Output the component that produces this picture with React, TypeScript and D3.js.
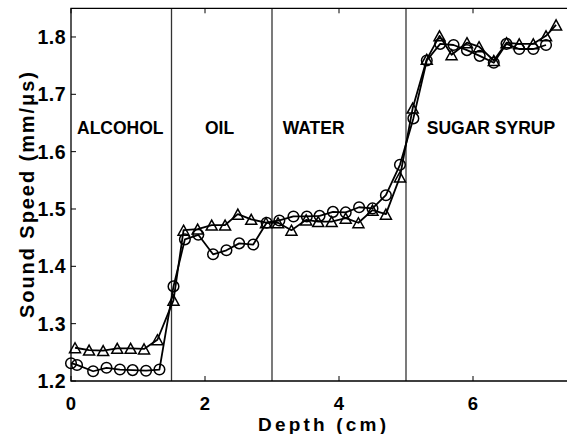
import * as d3 from "d3";
import React from "react";

// depth (cm) and sound speed (mm/us) for the two runs
const circleDepth = [0, 0.09, 0.33, 0.53, 0.73, 0.92, 1.12, 1.32, 1.53, 1.7, 1.9, 2.12, 2.32, 2.51, 2.72, 2.92, 3.11, 3.32, 3.52, 3.71, 3.91, 4.1, 4.3, 4.5, 4.7, 4.91, 5.11, 5.31, 5.51, 5.71, 5.91, 6.1, 6.31, 6.5, 6.69, 6.9, 7.09];
const circleSpeed = [1.231, 1.228, 1.217, 1.223, 1.22, 1.219, 1.218, 1.22, 1.365, 1.447, 1.455, 1.421, 1.428, 1.44, 1.438, 1.476, 1.48, 1.487, 1.487, 1.488, 1.495, 1.494, 1.503, 1.501, 1.524, 1.577, 1.658, 1.759, 1.788, 1.786, 1.777, 1.767, 1.755, 1.788, 1.779, 1.779, 1.786];

const triDepth = [0.06, 0.27, 0.48, 0.69, 0.89, 1.09, 1.29, 1.53, 1.68, 1.89, 2.1, 2.3, 2.49, 2.69, 2.91, 3.09, 3.29, 3.51, 3.69, 3.89, 4.1, 4.29, 4.5, 4.7, 4.91, 5.1, 5.31, 5.5, 5.68, 5.91, 6.09, 6.31, 6.5, 6.69, 6.9, 7.09, 7.24];
const triSpeed = [1.258, 1.254, 1.253, 1.257, 1.257, 1.256, 1.272, 1.341, 1.463, 1.465, 1.472, 1.472, 1.491, 1.482, 1.476, 1.476, 1.463, 1.481, 1.478, 1.478, 1.484, 1.476, 1.498, 1.491, 1.556, 1.676, 1.761, 1.802, 1.769, 1.79, 1.783, 1.759, 1.79, 1.788, 1.788, 1.802, 1.821];

const boundaries = [1.5, 3, 5];
const layerNames = ["ALCOHOL", "OIL", "WATER", "SUGAR SYRUP"];
const layerLabelDepth = [0.09, 2.0, 3.16, 5.31];
const xTicks = [0, 2, 4, 6];
const yTicks = [1.2, 1.3, 1.4, 1.5, 1.6, 1.7, 1.8];

const W = 567;
const H = 434;
const font = "'Liberation Sans', Arial, sans-serif";

export default function App() {
  const x = d3.scaleLinear().domain([0, 7.5]).range([71, 573.5]);
  const y = d3.scaleLinear().domain([1.2, 1.85]).range([381, 8.3]);
  const x0 = 71;
  const [yb, yt] = y.range();

  const line = d3
    .line<[number, number]>()
    .x((d) => x(d[0]))
    .y((d) => y(d[1]));

  const circlePts = circleDepth.map((d, i) => [d, circleSpeed[i]] as [number, number]);
  const triPts = triDepth.map((d, i) => [d, triSpeed[i]] as [number, number]);
  const tri = "M0,-5L5.5,5L-5.5,5Z";

  return (
    <svg width={W} height={H} style={{ position: "absolute", left: 0, top: 0, background: "#fff" }} fontFamily={font} fontWeight="bold">
      {/* layer boundaries */}
      {boundaries.map((b) => (
        <line key={b} x1={x(b)} x2={x(b)} y1={yt} y2={yb} stroke="#333" strokeWidth={1.3} />
      ))}

      {/* frame and ticks */}
      <path d={`M${W},${yt}H${x0}V${yb}H${W}`} fill="none" stroke="#000" strokeWidth={1.3} />
      {xTicks.map((t) => (
        <g key={t}>
          <line x1={x(t)} x2={x(t)} y1={yb} y2={yb - 5} stroke="#000" strokeWidth={1} />
          <line x1={x(t)} x2={x(t)} y1={yt} y2={yt + 5} stroke="#000" strokeWidth={1} />
          <text x={x(t)} y={410} textAnchor="middle" fontSize={18.5}>
            {t}
          </text>
        </g>
      ))}
      {yTicks.map((t) => (
        <g key={t}>
          <line x1={x0} x2={x0 + 5} y1={y(t)} y2={y(t)} stroke="#000" strokeWidth={1} />
          <text x={66} y={y(t) + 7} textAnchor="end" fontSize={19.5} letterSpacing={0.5}>
            {t.toFixed(1)}
          </text>
        </g>
      ))}

      {/* series */}
      <path d={line(circlePts) ?? ""} fill="none" stroke="#000" strokeWidth={1.8} strokeLinejoin="round" />
      <path d={line(triPts) ?? ""} fill="none" stroke="#000" strokeWidth={1.8} strokeLinejoin="round" />
      {circlePts.map((p, i) => (
        <circle key={"c" + i} cx={x(p[0])} cy={y(p[1])} r={5.3} fill="none" stroke="#000" strokeWidth={1.5} />
      ))}
      {triPts.map((p, i) => (
        <path key={"t" + i} d={tri} transform={`translate(${x(p[0])},${y(p[1])})`} fill="none" stroke="#000" strokeWidth={1.5} strokeLinejoin="miter" />
      ))}

      {/* layer names */}
      {layerNames.map((n, i) => (
        <text key={n} x={x(layerLabelDepth[i])} y={y(1.631)} fontSize={17.5}>
          {n}
        </text>
      ))}

      {/* axis titles */}
      <text x={322} y={431} textAnchor="middle" fontSize={19} textLength={128} lengthAdjust="spacing">
        Depth (cm)
      </text>
      <text transform="translate(34,195) rotate(-90)" textAnchor="middle" fontSize={20} textLength={246} lengthAdjust="spacing">
        Sound Speed (mm/μs)
      </text>
    </svg>
  );
}
